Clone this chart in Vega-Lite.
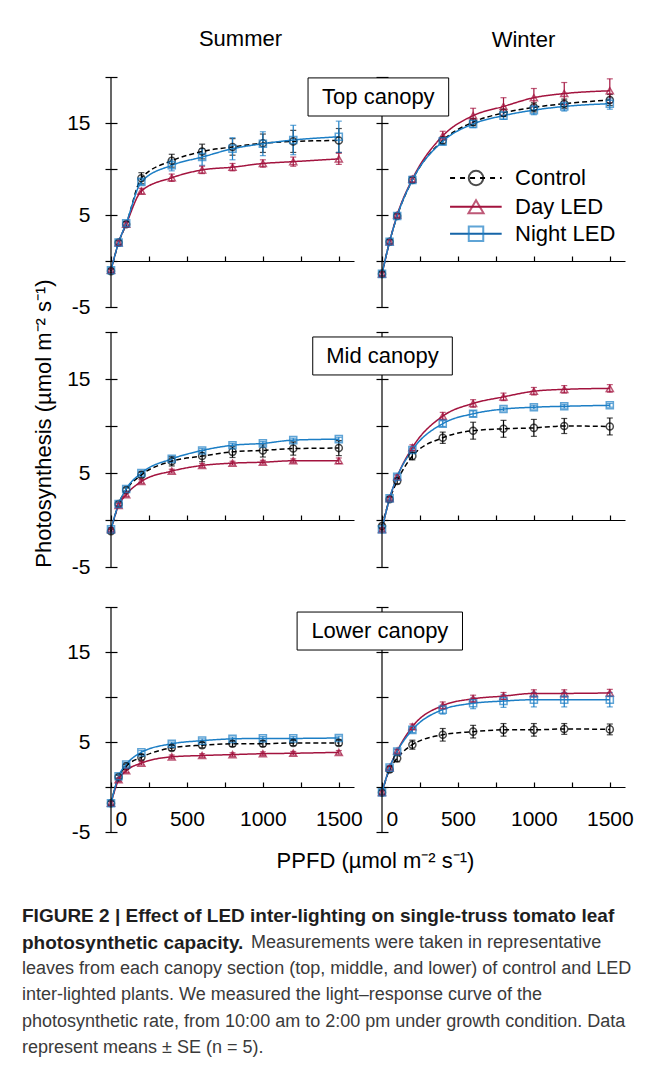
{
  "$schema": "https://vega.github.io/schema/vega-lite/v6.json",
  "background": "white",
  "padding": {"left": 22, "top": 28, "right": 5, "bottom": 5},
  "bounds": "flush",
  "columns": 2,
  "spacing": {"row": 25, "column": 28},
  "resolve": {"legend": {"shape": "independent", "color": "independent", "strokeDash": "independent"}},
  "data": {"values": [
    {"season":"Summer","canopy":"Top","treatment":"Control","ppfd":0,"rate":-1.1,"se":0.2},
    {"season":"Summer","canopy":"Top","treatment":"Control","ppfd":50,"rate":2.0,"se":0.2},
    {"season":"Summer","canopy":"Top","treatment":"Control","ppfd":100,"rate":4.0,"se":0.3},
    {"season":"Summer","canopy":"Top","treatment":"Control","ppfd":200,"rate":9.0,"se":0.6},
    {"season":"Summer","canopy":"Top","treatment":"Control","ppfd":400,"rate":10.9,"se":0.7},
    {"season":"Summer","canopy":"Top","treatment":"Control","ppfd":600,"rate":11.9,"se":0.8},
    {"season":"Summer","canopy":"Top","treatment":"Control","ppfd":800,"rate":12.4,"se":0.9},
    {"season":"Summer","canopy":"Top","treatment":"Control","ppfd":1000,"rate":12.8,"se":1.0},
    {"season":"Summer","canopy":"Top","treatment":"Control","ppfd":1200,"rate":13.0,"se":1.2},
    {"season":"Summer","canopy":"Top","treatment":"Control","ppfd":1500,"rate":13.1,"se":1.3},
    {"season":"Summer","canopy":"Top","treatment":"Day LED","ppfd":0,"rate":-1.0,"se":0.2},
    {"season":"Summer","canopy":"Top","treatment":"Day LED","ppfd":50,"rate":2.0,"se":0.2},
    {"season":"Summer","canopy":"Top","treatment":"Day LED","ppfd":100,"rate":4.0,"se":0.2},
    {"season":"Summer","canopy":"Top","treatment":"Day LED","ppfd":200,"rate":7.6,"se":0.3},
    {"season":"Summer","canopy":"Top","treatment":"Day LED","ppfd":400,"rate":9.05,"se":0.4},
    {"season":"Summer","canopy":"Top","treatment":"Day LED","ppfd":600,"rate":9.9,"se":0.4},
    {"season":"Summer","canopy":"Top","treatment":"Day LED","ppfd":800,"rate":10.2,"se":0.4},
    {"season":"Summer","canopy":"Top","treatment":"Day LED","ppfd":1000,"rate":10.6,"se":0.4},
    {"season":"Summer","canopy":"Top","treatment":"Day LED","ppfd":1200,"rate":10.8,"se":0.5},
    {"season":"Summer","canopy":"Top","treatment":"Day LED","ppfd":1500,"rate":11.1,"se":0.6},
    {"season":"Summer","canopy":"Top","treatment":"Night LED","ppfd":0,"rate":-1.0,"se":0.2},
    {"season":"Summer","canopy":"Top","treatment":"Night LED","ppfd":50,"rate":2.0,"se":0.2},
    {"season":"Summer","canopy":"Top","treatment":"Night LED","ppfd":100,"rate":4.1,"se":0.2},
    {"season":"Summer","canopy":"Top","treatment":"Night LED","ppfd":200,"rate":8.6,"se":0.3},
    {"season":"Summer","canopy":"Top","treatment":"Night LED","ppfd":400,"rate":10.4,"se":0.6},
    {"season":"Summer","canopy":"Top","treatment":"Night LED","ppfd":600,"rate":11.3,"se":0.9},
    {"season":"Summer","canopy":"Top","treatment":"Night LED","ppfd":800,"rate":12.2,"se":1.2},
    {"season":"Summer","canopy":"Top","treatment":"Night LED","ppfd":1000,"rate":12.75,"se":1.3},
    {"season":"Summer","canopy":"Top","treatment":"Night LED","ppfd":1200,"rate":13.15,"se":1.6},
    {"season":"Summer","canopy":"Top","treatment":"Night LED","ppfd":1500,"rate":13.5,"se":1.7},
    {"season":"Winter","canopy":"Top","treatment":"Control","ppfd":0,"rate":-1.4,"se":0.2},
    {"season":"Winter","canopy":"Top","treatment":"Control","ppfd":50,"rate":2.1,"se":0.2},
    {"season":"Winter","canopy":"Top","treatment":"Control","ppfd":100,"rate":4.9,"se":0.2},
    {"season":"Winter","canopy":"Top","treatment":"Control","ppfd":200,"rate":8.8,"se":0.3},
    {"season":"Winter","canopy":"Top","treatment":"Control","ppfd":400,"rate":13.1,"se":0.4},
    {"season":"Winter","canopy":"Top","treatment":"Control","ppfd":600,"rate":15.1,"se":0.4},
    {"season":"Winter","canopy":"Top","treatment":"Control","ppfd":800,"rate":16.1,"se":0.4},
    {"season":"Winter","canopy":"Top","treatment":"Control","ppfd":1000,"rate":16.7,"se":0.5},
    {"season":"Winter","canopy":"Top","treatment":"Control","ppfd":1200,"rate":17.1,"se":0.5},
    {"season":"Winter","canopy":"Top","treatment":"Control","ppfd":1500,"rate":17.5,"se":0.6},
    {"season":"Winter","canopy":"Top","treatment":"Day LED","ppfd":0,"rate":-1.4,"se":0.2},
    {"season":"Winter","canopy":"Top","treatment":"Day LED","ppfd":50,"rate":2.1,"se":0.2},
    {"season":"Winter","canopy":"Top","treatment":"Day LED","ppfd":100,"rate":5.0,"se":0.2},
    {"season":"Winter","canopy":"Top","treatment":"Day LED","ppfd":200,"rate":8.9,"se":0.3},
    {"season":"Winter","canopy":"Top","treatment":"Day LED","ppfd":400,"rate":13.6,"se":0.5},
    {"season":"Winter","canopy":"Top","treatment":"Day LED","ppfd":600,"rate":15.8,"se":0.8},
    {"season":"Winter","canopy":"Top","treatment":"Day LED","ppfd":800,"rate":16.8,"se":0.95},
    {"season":"Winter","canopy":"Top","treatment":"Day LED","ppfd":1000,"rate":17.75,"se":1.0},
    {"season":"Winter","canopy":"Top","treatment":"Day LED","ppfd":1200,"rate":18.2,"se":1.2},
    {"season":"Winter","canopy":"Top","treatment":"Day LED","ppfd":1500,"rate":18.5,"se":1.3},
    {"season":"Winter","canopy":"Top","treatment":"Night LED","ppfd":0,"rate":-1.4,"se":0.2},
    {"season":"Winter","canopy":"Top","treatment":"Night LED","ppfd":50,"rate":2.1,"se":0.2},
    {"season":"Winter","canopy":"Top","treatment":"Night LED","ppfd":100,"rate":4.9,"se":0.2},
    {"season":"Winter","canopy":"Top","treatment":"Night LED","ppfd":200,"rate":8.8,"se":0.3},
    {"season":"Winter","canopy":"Top","treatment":"Night LED","ppfd":400,"rate":13.0,"se":0.4},
    {"season":"Winter","canopy":"Top","treatment":"Night LED","ppfd":600,"rate":14.9,"se":0.4},
    {"season":"Winter","canopy":"Top","treatment":"Night LED","ppfd":800,"rate":15.8,"se":0.4},
    {"season":"Winter","canopy":"Top","treatment":"Night LED","ppfd":1000,"rate":16.4,"se":0.5},
    {"season":"Winter","canopy":"Top","treatment":"Night LED","ppfd":1200,"rate":16.8,"se":0.5},
    {"season":"Winter","canopy":"Top","treatment":"Night LED","ppfd":1500,"rate":17.1,"se":0.6},
    {"season":"Summer","canopy":"Mid","treatment":"Control","ppfd":0,"rate":-1.2,"se":0.2},
    {"season":"Summer","canopy":"Mid","treatment":"Control","ppfd":50,"rate":1.7,"se":0.2},
    {"season":"Summer","canopy":"Mid","treatment":"Control","ppfd":100,"rate":3.2,"se":0.2},
    {"season":"Summer","canopy":"Mid","treatment":"Control","ppfd":200,"rate":4.8,"se":0.3},
    {"season":"Summer","canopy":"Mid","treatment":"Control","ppfd":400,"rate":6.25,"se":0.5},
    {"season":"Summer","canopy":"Mid","treatment":"Control","ppfd":600,"rate":6.8,"se":0.6},
    {"season":"Summer","canopy":"Mid","treatment":"Control","ppfd":800,"rate":7.25,"se":0.6},
    {"season":"Summer","canopy":"Mid","treatment":"Control","ppfd":1000,"rate":7.4,"se":0.7},
    {"season":"Summer","canopy":"Mid","treatment":"Control","ppfd":1200,"rate":7.6,"se":0.7},
    {"season":"Summer","canopy":"Mid","treatment":"Control","ppfd":1500,"rate":7.65,"se":0.8},
    {"season":"Summer","canopy":"Mid","treatment":"Day LED","ppfd":0,"rate":-1.0,"se":0.2},
    {"season":"Summer","canopy":"Mid","treatment":"Day LED","ppfd":50,"rate":1.55,"se":0.2},
    {"season":"Summer","canopy":"Mid","treatment":"Day LED","ppfd":100,"rate":2.7,"se":0.2},
    {"season":"Summer","canopy":"Mid","treatment":"Day LED","ppfd":200,"rate":4.1,"se":0.2},
    {"season":"Summer","canopy":"Mid","treatment":"Day LED","ppfd":400,"rate":5.2,"se":0.2},
    {"season":"Summer","canopy":"Mid","treatment":"Day LED","ppfd":600,"rate":5.8,"se":0.2},
    {"season":"Summer","canopy":"Mid","treatment":"Day LED","ppfd":800,"rate":6.05,"se":0.2},
    {"season":"Summer","canopy":"Mid","treatment":"Day LED","ppfd":1000,"rate":6.15,"se":0.2},
    {"season":"Summer","canopy":"Mid","treatment":"Day LED","ppfd":1200,"rate":6.3,"se":0.2},
    {"season":"Summer","canopy":"Mid","treatment":"Day LED","ppfd":1500,"rate":6.3,"se":0.3},
    {"season":"Summer","canopy":"Mid","treatment":"Night LED","ppfd":0,"rate":-1.0,"se":0.2},
    {"season":"Summer","canopy":"Mid","treatment":"Night LED","ppfd":50,"rate":1.7,"se":0.2},
    {"season":"Summer","canopy":"Mid","treatment":"Night LED","ppfd":100,"rate":3.3,"se":0.2},
    {"season":"Summer","canopy":"Mid","treatment":"Night LED","ppfd":200,"rate":5.0,"se":0.2},
    {"season":"Summer","canopy":"Mid","treatment":"Night LED","ppfd":400,"rate":6.5,"se":0.2},
    {"season":"Summer","canopy":"Mid","treatment":"Night LED","ppfd":600,"rate":7.4,"se":0.2},
    {"season":"Summer","canopy":"Mid","treatment":"Night LED","ppfd":800,"rate":7.95,"se":0.2},
    {"season":"Summer","canopy":"Mid","treatment":"Night LED","ppfd":1000,"rate":8.15,"se":0.2},
    {"season":"Summer","canopy":"Mid","treatment":"Night LED","ppfd":1200,"rate":8.5,"se":0.2},
    {"season":"Summer","canopy":"Mid","treatment":"Night LED","ppfd":1500,"rate":8.6,"se":0.2},
    {"season":"Winter","canopy":"Mid","treatment":"Control","ppfd":0,"rate":-0.65,"se":0.2},
    {"season":"Winter","canopy":"Mid","treatment":"Control","ppfd":50,"rate":2.2,"se":0.2},
    {"season":"Winter","canopy":"Mid","treatment":"Control","ppfd":100,"rate":4.15,"se":0.3},
    {"season":"Winter","canopy":"Mid","treatment":"Control","ppfd":200,"rate":6.8,"se":0.4},
    {"season":"Winter","canopy":"Mid","treatment":"Control","ppfd":400,"rate":8.75,"se":0.6},
    {"season":"Winter","canopy":"Mid","treatment":"Control","ppfd":600,"rate":9.5,"se":0.9},
    {"season":"Winter","canopy":"Mid","treatment":"Control","ppfd":800,"rate":9.7,"se":0.9},
    {"season":"Winter","canopy":"Mid","treatment":"Control","ppfd":1000,"rate":9.8,"se":0.9},
    {"season":"Winter","canopy":"Mid","treatment":"Control","ppfd":1200,"rate":10.0,"se":0.8},
    {"season":"Winter","canopy":"Mid","treatment":"Control","ppfd":1500,"rate":9.95,"se":0.9},
    {"season":"Winter","canopy":"Mid","treatment":"Day LED","ppfd":0,"rate":-1.0,"se":0.2},
    {"season":"Winter","canopy":"Mid","treatment":"Day LED","ppfd":50,"rate":2.3,"se":0.2},
    {"season":"Winter","canopy":"Mid","treatment":"Day LED","ppfd":100,"rate":4.6,"se":0.2},
    {"season":"Winter","canopy":"Mid","treatment":"Day LED","ppfd":200,"rate":7.7,"se":0.3},
    {"season":"Winter","canopy":"Mid","treatment":"Day LED","ppfd":400,"rate":11.05,"se":0.4},
    {"season":"Winter","canopy":"Mid","treatment":"Day LED","ppfd":600,"rate":12.4,"se":0.4},
    {"season":"Winter","canopy":"Mid","treatment":"Day LED","ppfd":800,"rate":13.1,"se":0.4},
    {"season":"Winter","canopy":"Mid","treatment":"Day LED","ppfd":1000,"rate":13.7,"se":0.4},
    {"season":"Winter","canopy":"Mid","treatment":"Day LED","ppfd":1200,"rate":13.9,"se":0.4},
    {"season":"Winter","canopy":"Mid","treatment":"Day LED","ppfd":1500,"rate":14.0,"se":0.4},
    {"season":"Winter","canopy":"Mid","treatment":"Night LED","ppfd":0,"rate":-1.0,"se":0.2},
    {"season":"Winter","canopy":"Mid","treatment":"Night LED","ppfd":50,"rate":2.3,"se":0.2},
    {"season":"Winter","canopy":"Mid","treatment":"Night LED","ppfd":100,"rate":4.6,"se":0.2},
    {"season":"Winter","canopy":"Mid","treatment":"Night LED","ppfd":200,"rate":7.45,"se":0.2},
    {"season":"Winter","canopy":"Mid","treatment":"Night LED","ppfd":400,"rate":10.25,"se":0.3},
    {"season":"Winter","canopy":"Mid","treatment":"Night LED","ppfd":600,"rate":11.3,"se":0.3},
    {"season":"Winter","canopy":"Mid","treatment":"Night LED","ppfd":800,"rate":11.8,"se":0.2},
    {"season":"Winter","canopy":"Mid","treatment":"Night LED","ppfd":1000,"rate":12.0,"se":0.2},
    {"season":"Winter","canopy":"Mid","treatment":"Night LED","ppfd":1200,"rate":12.1,"se":0.2},
    {"season":"Winter","canopy":"Mid","treatment":"Night LED","ppfd":1500,"rate":12.2,"se":0.2},
    {"season":"Summer","canopy":"Lower","treatment":"Control","ppfd":0,"rate":-1.8,"se":0.2},
    {"season":"Summer","canopy":"Lower","treatment":"Control","ppfd":50,"rate":1.1,"se":0.2},
    {"season":"Summer","canopy":"Lower","treatment":"Control","ppfd":100,"rate":2.3,"se":0.2},
    {"season":"Summer","canopy":"Lower","treatment":"Control","ppfd":200,"rate":3.3,"se":0.3},
    {"season":"Summer","canopy":"Lower","treatment":"Control","ppfd":400,"rate":4.35,"se":0.3},
    {"season":"Summer","canopy":"Lower","treatment":"Control","ppfd":600,"rate":4.65,"se":0.3},
    {"season":"Summer","canopy":"Lower","treatment":"Control","ppfd":800,"rate":4.8,"se":0.3},
    {"season":"Summer","canopy":"Lower","treatment":"Control","ppfd":1000,"rate":4.8,"se":0.3},
    {"season":"Summer","canopy":"Lower","treatment":"Control","ppfd":1200,"rate":4.9,"se":0.3},
    {"season":"Summer","canopy":"Lower","treatment":"Control","ppfd":1500,"rate":4.9,"se":0.3},
    {"season":"Summer","canopy":"Lower","treatment":"Day LED","ppfd":0,"rate":-1.8,"se":0.2},
    {"season":"Summer","canopy":"Lower","treatment":"Day LED","ppfd":50,"rate":0.8,"se":0.2},
    {"season":"Summer","canopy":"Lower","treatment":"Day LED","ppfd":100,"rate":1.8,"se":0.2},
    {"season":"Summer","canopy":"Lower","treatment":"Day LED","ppfd":200,"rate":2.65,"se":0.2},
    {"season":"Summer","canopy":"Lower","treatment":"Day LED","ppfd":400,"rate":3.35,"se":0.2},
    {"season":"Summer","canopy":"Lower","treatment":"Day LED","ppfd":600,"rate":3.5,"se":0.2},
    {"season":"Summer","canopy":"Lower","treatment":"Day LED","ppfd":800,"rate":3.6,"se":0.2},
    {"season":"Summer","canopy":"Lower","treatment":"Day LED","ppfd":1000,"rate":3.7,"se":0.2},
    {"season":"Summer","canopy":"Lower","treatment":"Day LED","ppfd":1200,"rate":3.75,"se":0.2},
    {"season":"Summer","canopy":"Lower","treatment":"Day LED","ppfd":1500,"rate":3.85,"se":0.2},
    {"season":"Summer","canopy":"Lower","treatment":"Night LED","ppfd":0,"rate":-1.8,"se":0.2},
    {"season":"Summer","canopy":"Lower","treatment":"Night LED","ppfd":50,"rate":1.2,"se":0.2},
    {"season":"Summer","canopy":"Lower","treatment":"Night LED","ppfd":100,"rate":2.5,"se":0.2},
    {"season":"Summer","canopy":"Lower","treatment":"Night LED","ppfd":200,"rate":3.85,"se":0.2},
    {"season":"Summer","canopy":"Lower","treatment":"Night LED","ppfd":400,"rate":4.8,"se":0.2},
    {"season":"Summer","canopy":"Lower","treatment":"Night LED","ppfd":600,"rate":5.15,"se":0.2},
    {"season":"Summer","canopy":"Lower","treatment":"Night LED","ppfd":800,"rate":5.35,"se":0.2},
    {"season":"Summer","canopy":"Lower","treatment":"Night LED","ppfd":1000,"rate":5.4,"se":0.2},
    {"season":"Summer","canopy":"Lower","treatment":"Night LED","ppfd":1200,"rate":5.4,"se":0.2},
    {"season":"Summer","canopy":"Lower","treatment":"Night LED","ppfd":1500,"rate":5.45,"se":0.2},
    {"season":"Winter","canopy":"Lower","treatment":"Control","ppfd":0,"rate":-0.6,"se":0.2},
    {"season":"Winter","canopy":"Lower","treatment":"Control","ppfd":50,"rate":1.95,"se":0.3},
    {"season":"Winter","canopy":"Lower","treatment":"Control","ppfd":100,"rate":3.2,"se":0.4},
    {"season":"Winter","canopy":"Lower","treatment":"Control","ppfd":200,"rate":4.7,"se":0.5},
    {"season":"Winter","canopy":"Lower","treatment":"Control","ppfd":400,"rate":5.8,"se":0.7},
    {"season":"Winter","canopy":"Lower","treatment":"Control","ppfd":600,"rate":6.15,"se":0.7},
    {"season":"Winter","canopy":"Lower","treatment":"Control","ppfd":800,"rate":6.35,"se":0.7},
    {"season":"Winter","canopy":"Lower","treatment":"Control","ppfd":1000,"rate":6.35,"se":0.7},
    {"season":"Winter","canopy":"Lower","treatment":"Control","ppfd":1200,"rate":6.45,"se":0.6},
    {"season":"Winter","canopy":"Lower","treatment":"Control","ppfd":1500,"rate":6.4,"se":0.6},
    {"season":"Winter","canopy":"Lower","treatment":"Day LED","ppfd":0,"rate":-0.6,"se":0.2},
    {"season":"Winter","canopy":"Lower","treatment":"Day LED","ppfd":50,"rate":2.15,"se":0.2},
    {"season":"Winter","canopy":"Lower","treatment":"Day LED","ppfd":100,"rate":4.0,"se":0.2},
    {"season":"Winter","canopy":"Lower","treatment":"Day LED","ppfd":200,"rate":6.7,"se":0.3},
    {"season":"Winter","canopy":"Lower","treatment":"Day LED","ppfd":400,"rate":9.05,"se":0.4},
    {"season":"Winter","canopy":"Lower","treatment":"Day LED","ppfd":600,"rate":9.8,"se":0.4},
    {"season":"Winter","canopy":"Lower","treatment":"Day LED","ppfd":800,"rate":10.1,"se":0.4},
    {"season":"Winter","canopy":"Lower","treatment":"Day LED","ppfd":1000,"rate":10.4,"se":0.4},
    {"season":"Winter","canopy":"Lower","treatment":"Day LED","ppfd":1200,"rate":10.4,"se":0.4},
    {"season":"Winter","canopy":"Lower","treatment":"Day LED","ppfd":1500,"rate":10.45,"se":0.4},
    {"season":"Winter","canopy":"Lower","treatment":"Night LED","ppfd":0,"rate":-0.6,"se":0.2},
    {"season":"Winter","canopy":"Lower","treatment":"Night LED","ppfd":50,"rate":2.15,"se":0.2},
    {"season":"Winter","canopy":"Lower","treatment":"Night LED","ppfd":100,"rate":3.95,"se":0.2},
    {"season":"Winter","canopy":"Lower","treatment":"Night LED","ppfd":200,"rate":6.35,"se":0.3},
    {"season":"Winter","canopy":"Lower","treatment":"Night LED","ppfd":400,"rate":8.6,"se":0.5},
    {"season":"Winter","canopy":"Lower","treatment":"Night LED","ppfd":600,"rate":9.3,"se":0.6},
    {"season":"Winter","canopy":"Lower","treatment":"Night LED","ppfd":800,"rate":9.55,"se":0.7},
    {"season":"Winter","canopy":"Lower","treatment":"Night LED","ppfd":1000,"rate":9.7,"se":0.8},
    {"season":"Winter","canopy":"Lower","treatment":"Night LED","ppfd":1200,"rate":9.7,"se":0.8},
    {"season":"Winter","canopy":"Lower","treatment":"Night LED","ppfd":1500,"rate":9.7,"se":0.8}
  ]},
  "concat": [
    {
      "width": 243, "height": 230,
      "title": {"text": "Summer", "dx": 8, "offset": 15},
      "encoding": {
        "color": {"field": "treatment", "type": "nominal", "scale": {"domain": ["Night LED","Control","Day LED"], "range": ["#1c7ec5","#000000","#a3133e"]}, "legend": null}
      },
      "layer": [
        {"transform": [{"filter": "datum.season === 'Summer' && datum.canopy === 'Top'"}], "mark": {"type": "errorbar", "ticks": {"size": 6}, "thickness": 1.2}, "encoding": {
          "x": {"field": "ppfd", "type": "quantitative", "scale": {"domain": [0, 1600], "nice": false, "zero": false}, "axis": {"values": [0,250,500,750,1000,1250,1500], "labels": false, "title": null, "offset": -46, "tickSize": -5}},
          "y": {"field": "rate", "type": "quantitative", "scale": {"domain": [-5, 20], "nice": false, "zero": false}, "axis": {"values": [-5,0,5,10,15,20], "labelExpr": "datum.value === 15 ? '15' : datum.value === 5 ? '5' : datum.value === -5 ? '-5' : ''", "labelOverlap": false, "domain": false, "offset": -6, "tickSize": 12, "labelPadding": 15, "title": null}},
          "yError": {"field": "se"}}},
        {"transform": [{"filter": "datum.season === 'Summer' && datum.canopy === 'Top'"}], "mark": {"type": "line", "interpolate": "monotone", "strokeWidth": 1.5}, "encoding": {"x": {"field": "ppfd", "type": "quantitative"}, "y": {"field": "rate", "type": "quantitative"}, "strokeDash": {"field": "treatment", "type": "nominal", "scale": {"domain": ["Day LED","Night LED","Control"], "range": [[1,0],[1,0],[5,3]]}, "legend": null}}},
        {"transform": [{"filter": "datum.season === 'Summer' && datum.canopy === 'Top'"}], "mark": {"type": "point", "filled": false, "size": 50, "strokeWidth": 1.5}, "encoding": {"x": {"field": "ppfd", "type": "quantitative"}, "y": {"field": "rate", "type": "quantitative"}, "shape": {"field": "treatment", "type": "nominal", "scale": {"domain": ["Control","Day LED","Night LED"], "range": ["circle","triangle-up","square"]}, "legend": null}}},
        {"data": {"values": [{}]}, "mark": {"type": "rule", "strokeWidth": 1.2}, "encoding": {"x": {"datum": 0}, "y": {"datum": -5}, "y2": {"datum": 20}, "color": {"value": "black"}}}
      ]
    },
    {
      "width": 243, "height": 230,
      "title": {"text": "Winter", "dx": 20, "offset": 24},
      "encoding": {
        "color": {"field": "treatment", "type": "nominal", "scale": {"domain": ["Night LED","Control","Day LED"], "range": ["#1c7ec5","#000000","#a3133e"]}, "legend": null}
      },
      "layer": [
        {"transform": [{"filter": "datum.season === 'Winter' && datum.canopy === 'Top'"}], "mark": {"type": "errorbar", "ticks": {"size": 6}, "thickness": 1.2}, "encoding": {
          "x": {"field": "ppfd", "type": "quantitative", "scale": {"domain": [0, 1600], "nice": false, "zero": false}, "axis": {"values": [0,250,500,750,1000,1250,1500], "labels": false, "title": null, "offset": -46, "tickSize": -5}},
          "y": {"field": "rate", "type": "quantitative", "scale": {"domain": [-5, 20], "nice": false, "zero": false}, "axis": {"values": [-5,0,5,10,15,20], "labels": false, "domain": false, "offset": -6, "tickSize": 12, "title": null}},
          "yError": {"field": "se"}}},
        {"transform": [{"filter": "datum.season === 'Winter' && datum.canopy === 'Top'"}], "mark": {"type": "line", "interpolate": "monotone", "strokeWidth": 1.5}, "encoding": {"x": {"field": "ppfd", "type": "quantitative"}, "y": {"field": "rate", "type": "quantitative"}, "strokeDash": {"field": "treatment", "type": "nominal", "scale": {"domain": ["Day LED","Night LED","Control"], "range": [[1,0],[1,0],[5,3]]}, "legend": null}}},
        {"transform": [{"filter": "datum.season === 'Winter' && datum.canopy === 'Top'"}], "mark": {"type": "point", "filled": false, "size": 50, "strokeWidth": 1.5}, "encoding": {"x": {"field": "ppfd", "type": "quantitative"}, "y": {"field": "rate", "type": "quantitative"}, "shape": {"field": "treatment", "type": "nominal", "scale": {"domain": ["Control","Day LED","Night LED"], "range": ["circle","triangle-up","square"]}, "legend": null}}},
        {"data": {"values": [{}]}, "mark": {"type": "rule", "strokeWidth": 1.2}, "encoding": {"x": {"datum": 0}, "y": {"datum": -5}, "y2": {"datum": 20}, "color": {"value": "black"}}},
        {"data": {"values": [{"label": "Control"}]}, "mark": {"type": "rule", "strokeWidth": 2, "strokeDash": [5, 5]}, "encoding": {"x": {"datum": 448}, "x2": {"datum": 788}, "y": {"datum": 9.02}, "color": {"value": "#000000"}}},
        {"data": {"values": [{"label": "Control"}]}, "mark": {"type": "point", "filled": false, "size": 210, "strokeWidth": 2, "shape": "circle"}, "encoding": {"x": {"datum": 619}, "y": {"datum": 9.02}, "color": {"value": "#000000"}}},
        {"data": {"values": [{"label": "Control"}]}, "mark": {"type": "text", "align": "left", "fontSize": 22, "font": "Liberation Sans"}, "encoding": {"x": {"datum": 876}, "y": {"datum": 9.02}, "text": {"field": "label"}, "color": {"value": "black"}}},
        {"data": {"values": [{"label": "Day LED"}]}, "mark": {"type": "rule", "strokeWidth": 2}, "encoding": {"x": {"datum": 448}, "x2": {"datum": 788}, "y": {"datum": 5.9}, "color": {"value": "#a3133e"}}},
        {"data": {"values": [{"label": "Day LED"}]}, "mark": {"type": "point", "filled": false, "size": 230, "strokeWidth": 2, "shape": "triangle-up"}, "encoding": {"x": {"datum": 619}, "y": {"datum": 5.9}, "color": {"value": "#a3133e"}}},
        {"data": {"values": [{"label": "Day LED"}]}, "mark": {"type": "text", "align": "left", "fontSize": 22, "font": "Liberation Sans"}, "encoding": {"x": {"datum": 876}, "y": {"datum": 5.9}, "text": {"field": "label"}, "color": {"value": "black"}}},
        {"data": {"values": [{"label": "Night LED"}]}, "mark": {"type": "rule", "strokeWidth": 2}, "encoding": {"x": {"datum": 448}, "x2": {"datum": 788}, "y": {"datum": 2.97}, "color": {"value": "#1565a8"}}},
        {"data": {"values": [{"label": "Night LED"}]}, "mark": {"type": "point", "filled": false, "size": 210, "strokeWidth": 2, "shape": "square"}, "encoding": {"x": {"datum": 619}, "y": {"datum": 2.97}, "color": {"value": "#1c7ec5"}}},
        {"data": {"values": [{"label": "Night LED"}]}, "mark": {"type": "text", "align": "left", "fontSize": 22, "font": "Liberation Sans"}, "encoding": {"x": {"datum": 876}, "y": {"datum": 2.97}, "text": {"field": "label"}, "color": {"value": "black"}}},
        {"data": {"values": [{"label": "Top canopy"}]}, "mark": {"type": "rect", "stroke": "black", "strokeWidth": 1}, "encoding": {"x": {"datum": -487}, "x2": {"datum": 439}, "y": {"datum": 19.9}, "y2": {"datum": 15.76}, "color": {"value": "white"}}},
        {"data": {"values": [{"label": "Top canopy"}]}, "mark": {"type": "text", "fontSize": 22, "font": "Liberation Sans"}, "encoding": {"x": {"datum": -24}, "y": {"datum": 17.85}, "text": {"field": "label"}, "color": {"value": "black"}}}
      ]
    },
    {
      "width": 243, "height": 235,
      "encoding": {
        "color": {"field": "treatment", "type": "nominal", "scale": {"domain": ["Night LED","Control","Day LED"], "range": ["#1c7ec5","#000000","#a3133e"]}, "legend": null}
      },
      "layer": [
        {"transform": [{"filter": "datum.season === 'Summer' && datum.canopy === 'Mid'"}], "mark": {"type": "errorbar", "ticks": {"size": 6}, "thickness": 1.2}, "encoding": {
          "x": {"field": "ppfd", "type": "quantitative", "scale": {"domain": [0, 1600], "nice": false, "zero": false}, "axis": {"values": [0,250,500,750,1000,1250,1500], "labels": false, "title": null, "offset": -47, "tickSize": -5}},
          "y": {"field": "rate", "type": "quantitative", "scale": {"domain": [-5, 20], "nice": false, "zero": false}, "axis": {"values": [-5,0,5,10,15,20], "labelExpr": "datum.value === 15 ? '15' : datum.value === 5 ? '5' : datum.value === -5 ? '-5' : ''", "labelOverlap": false, "domain": false, "offset": -6, "tickSize": 12, "labelPadding": 15, "title": "Photosynthesis (µmol m⁻² s⁻¹)", "titleFontSize": 22, "titleX": -67, "titleY": 91, "titleAngle": -90, "titleAlign": "center", "titleBaseline": "alphabetic"}},
          "yError": {"field": "se"}}},
        {"transform": [{"filter": "datum.season === 'Summer' && datum.canopy === 'Mid'"}], "mark": {"type": "line", "interpolate": "monotone", "strokeWidth": 1.5}, "encoding": {"x": {"field": "ppfd", "type": "quantitative"}, "y": {"field": "rate", "type": "quantitative"}, "strokeDash": {"field": "treatment", "type": "nominal", "scale": {"domain": ["Day LED","Night LED","Control"], "range": [[1,0],[1,0],[5,3]]}, "legend": null}}},
        {"transform": [{"filter": "datum.season === 'Summer' && datum.canopy === 'Mid'"}], "mark": {"type": "point", "filled": false, "size": 50, "strokeWidth": 1.5}, "encoding": {"x": {"field": "ppfd", "type": "quantitative"}, "y": {"field": "rate", "type": "quantitative"}, "shape": {"field": "treatment", "type": "nominal", "scale": {"domain": ["Control","Day LED","Night LED"], "range": ["circle","triangle-up","square"]}, "legend": null}}},
        {"data": {"values": [{}]}, "mark": {"type": "rule", "strokeWidth": 1.2}, "encoding": {"x": {"datum": 0}, "y": {"datum": -5}, "y2": {"datum": 20}, "color": {"value": "black"}}}
      ]
    },
    {
      "width": 243, "height": 235,
      "encoding": {
        "color": {"field": "treatment", "type": "nominal", "scale": {"domain": ["Night LED","Control","Day LED"], "range": ["#1c7ec5","#000000","#a3133e"]}, "legend": null}
      },
      "layer": [
        {"transform": [{"filter": "datum.season === 'Winter' && datum.canopy === 'Mid'"}], "mark": {"type": "errorbar", "ticks": {"size": 6}, "thickness": 1.2}, "encoding": {
          "x": {"field": "ppfd", "type": "quantitative", "scale": {"domain": [0, 1600], "nice": false, "zero": false}, "axis": {"values": [0,250,500,750,1000,1250,1500], "labels": false, "title": null, "offset": -47, "tickSize": -5}},
          "y": {"field": "rate", "type": "quantitative", "scale": {"domain": [-5, 20], "nice": false, "zero": false}, "axis": {"values": [-5,0,5,10,15,20], "labels": false, "domain": false, "offset": -6, "tickSize": 12, "title": null}},
          "yError": {"field": "se"}}},
        {"transform": [{"filter": "datum.season === 'Winter' && datum.canopy === 'Mid'"}], "mark": {"type": "line", "interpolate": "monotone", "strokeWidth": 1.5}, "encoding": {"x": {"field": "ppfd", "type": "quantitative"}, "y": {"field": "rate", "type": "quantitative"}, "strokeDash": {"field": "treatment", "type": "nominal", "scale": {"domain": ["Day LED","Night LED","Control"], "range": [[1,0],[1,0],[5,3]]}, "legend": null}}},
        {"transform": [{"filter": "datum.season === 'Winter' && datum.canopy === 'Mid'"}], "mark": {"type": "point", "filled": false, "size": 50, "strokeWidth": 1.5}, "encoding": {"x": {"field": "ppfd", "type": "quantitative"}, "y": {"field": "rate", "type": "quantitative"}, "shape": {"field": "treatment", "type": "nominal", "scale": {"domain": ["Control","Day LED","Night LED"], "range": ["circle","triangle-up","square"]}, "legend": null}}},
        {"data": {"values": [{}]}, "mark": {"type": "rule", "strokeWidth": 1.2}, "encoding": {"x": {"datum": 0}, "y": {"datum": -5}, "y2": {"datum": 20}, "color": {"value": "black"}}},
        {"data": {"values": [{"label": "Mid canopy"}]}, "mark": {"type": "rect", "stroke": "black", "strokeWidth": 1}, "encoding": {"x": {"datum": -456}, "x2": {"datum": 463}, "y": {"datum": 19.47}, "y2": {"datum": 15.43}, "color": {"value": "white"}}},
        {"data": {"values": [{"label": "Mid canopy"}]}, "mark": {"type": "text", "fontSize": 22, "font": "Liberation Sans"}, "encoding": {"x": {"datum": 3}, "y": {"datum": 17.45}, "text": {"field": "label"}, "color": {"value": "black"}}}
      ]
    },
    {
      "width": 243, "height": 240,
      "encoding": {
        "color": {"field": "treatment", "type": "nominal", "scale": {"domain": ["Night LED","Control","Day LED"], "range": ["#1c7ec5","#000000","#a3133e"]}, "legend": null}
      },
      "layer": [
        {"transform": [{"filter": "datum.season === 'Summer' && datum.canopy === 'Lower'"}], "mark": {"type": "errorbar", "ticks": {"size": 6}, "thickness": 1.2}, "encoding": {
          "x": {"field": "ppfd", "type": "quantitative", "scale": {"domain": [0, 1600], "nice": false, "zero": false}, "axis": {"values": [0,250,500,750,1000,1250,1500], "format": "d", "labelExpr": "datum.value % 500 === 0 ? datum.label : ''", "labelOverlap": false, "labelFlush": true, "labelFlushOffset": -4, "labelPadding": 26, "offset": -45, "tickSize": -5, "title": "PPFD (µmol m⁻² s⁻¹)", "titleFontSize": 22, "titleX": 264, "titleY": 80, "titleAlign": "center", "titleBaseline": "alphabetic"}},
          "y": {"field": "rate", "type": "quantitative", "scale": {"domain": [-5, 21.667], "nice": false, "zero": false}, "axis": {"values": [-5,0,5,10,15,20], "labelExpr": "datum.value === 15 ? '15' : datum.value === 5 ? '5' : datum.value === -5 ? '-5' : ''", "labelOverlap": false, "domain": false, "offset": -6, "tickSize": 12, "labelPadding": 15, "title": null}},
          "yError": {"field": "se"}}},
        {"transform": [{"filter": "datum.season === 'Summer' && datum.canopy === 'Lower'"}], "mark": {"type": "line", "interpolate": "monotone", "strokeWidth": 1.5}, "encoding": {"x": {"field": "ppfd", "type": "quantitative"}, "y": {"field": "rate", "type": "quantitative"}, "strokeDash": {"field": "treatment", "type": "nominal", "scale": {"domain": ["Day LED","Night LED","Control"], "range": [[1,0],[1,0],[5,3]]}, "legend": null}}},
        {"transform": [{"filter": "datum.season === 'Summer' && datum.canopy === 'Lower'"}], "mark": {"type": "point", "filled": false, "size": 50, "strokeWidth": 1.5}, "encoding": {"x": {"field": "ppfd", "type": "quantitative"}, "y": {"field": "rate", "type": "quantitative"}, "shape": {"field": "treatment", "type": "nominal", "scale": {"domain": ["Control","Day LED","Night LED"], "range": ["circle","triangle-up","square"]}, "legend": null}}},
        {"data": {"values": [{}]}, "mark": {"type": "rule", "strokeWidth": 1.2}, "encoding": {"x": {"datum": 0}, "y": {"datum": -5}, "y2": {"datum": 20}, "color": {"value": "black"}}}
      ]
    },
    {
      "width": 243, "height": 240,
      "encoding": {
        "color": {"field": "treatment", "type": "nominal", "scale": {"domain": ["Night LED","Control","Day LED"], "range": ["#1c7ec5","#000000","#a3133e"]}, "legend": null}
      },
      "layer": [
        {"transform": [{"filter": "datum.season === 'Winter' && datum.canopy === 'Lower'"}], "mark": {"type": "errorbar", "ticks": {"size": 6}, "thickness": 1.2}, "encoding": {
          "x": {"field": "ppfd", "type": "quantitative", "scale": {"domain": [0, 1600], "nice": false, "zero": false}, "axis": {"values": [0,250,500,750,1000,1250,1500], "format": "d", "labelExpr": "datum.value % 500 === 0 ? datum.label : ''", "labelOverlap": false, "labelFlush": true, "labelFlushOffset": -4, "labelPadding": 26, "offset": -45, "tickSize": -5, "title": null}},
          "y": {"field": "rate", "type": "quantitative", "scale": {"domain": [-5, 21.667], "nice": false, "zero": false}, "axis": {"values": [-5,0,5,10,15,20], "labels": false, "domain": false, "offset": -6, "tickSize": 12, "title": null}},
          "yError": {"field": "se"}}},
        {"transform": [{"filter": "datum.season === 'Winter' && datum.canopy === 'Lower'"}], "mark": {"type": "line", "interpolate": "monotone", "strokeWidth": 1.5}, "encoding": {"x": {"field": "ppfd", "type": "quantitative"}, "y": {"field": "rate", "type": "quantitative"}, "strokeDash": {"field": "treatment", "type": "nominal", "scale": {"domain": ["Day LED","Night LED","Control"], "range": [[1,0],[1,0],[5,3]]}, "legend": null}}},
        {"transform": [{"filter": "datum.season === 'Winter' && datum.canopy === 'Lower'"}], "mark": {"type": "point", "filled": false, "size": 50, "strokeWidth": 1.5}, "encoding": {"x": {"field": "ppfd", "type": "quantitative"}, "y": {"field": "rate", "type": "quantitative"}, "shape": {"field": "treatment", "type": "nominal", "scale": {"domain": ["Control","Day LED","Night LED"], "range": ["circle","triangle-up","square"]}, "legend": null}}},
        {"data": {"values": [{}]}, "mark": {"type": "rule", "strokeWidth": 1.2}, "encoding": {"x": {"datum": 0}, "y": {"datum": -5}, "y2": {"datum": 20}, "color": {"value": "black"}}},
        {"data": {"values": [{"label": "Lower canopy"}]}, "mark": {"type": "rect", "stroke": "black", "strokeWidth": 1}, "encoding": {"x": {"datum": -559}, "x2": {"datum": 530}, "y": {"datum": 19.44}, "y2": {"datum": 15.22}, "color": {"value": "white"}}},
        {"data": {"values": [{"label": "Lower canopy"}]}, "mark": {"type": "text", "fontSize": 22, "font": "Liberation Sans"}, "encoding": {"x": {"datum": -14}, "y": {"datum": 17.33}, "text": {"field": "label"}, "color": {"value": "black"}}}
      ]
    },
    {
      "width": 243, "height": 158,
      "data": {"values": [
        {"line": 1, "part": "bold", "text": "FIGURE 2 | Effect of LED inter-lighting on single-truss tomato leaf"},
        {"line": 2, "part": "bold", "text": "photosynthetic capacity."},
        {"line": 2, "part": "lead", "text": "Measurements were taken in representative"},
        {"line": 3, "part": "body", "text": "leaves from each canopy section (top, middle, and lower) of control and LED"},
        {"line": 4, "part": "body", "text": "inter-lighted plants. We measured the light–response curve of the"},
        {"line": 5, "part": "body", "text": "photosynthetic rate, from 10:00 am to 2:00 pm under growth condition. Data"},
        {"line": 6, "part": "body", "text": "represent means ± SE (n = 5)."}
      ]},
      "encoding": {
        "y": {"field": "line", "type": "ordinal", "axis": null, "scale": {"type": "point", "padding": 0.5}},
        "x": {"datum": 0, "type": "quantitative", "scale": {"domain": [0, 1]}, "axis": null},
        "text": {"field": "text"}
      },
      "layer": [
        {"transform": [{"filter": "datum.part === 'bold'"}], "mark": {"type": "text", "align": "left", "dx": -89, "dy": 46, "fontSize": 19, "fontWeight": "bold", "font": "Liberation Sans", "color": "#1e1e1e"}},
        {"transform": [{"filter": "datum.part === 'lead'"}], "mark": {"type": "text", "align": "left", "dx": 140, "dy": 46, "fontSize": 18, "font": "Liberation Sans", "color": "#3a3a3a"}},
        {"transform": [{"filter": "datum.part === 'body'"}], "mark": {"type": "text", "align": "left", "dx": -89, "dy": 46, "fontSize": 18, "font": "Liberation Sans", "color": "#3a3a3a"}}
      ]
    }
  ],
  "config": {
    "view": {"stroke": null},
    "font": "Liberation Sans",
    "title": {"font": "Liberation Sans", "fontSize": 22, "fontWeight": "normal", "color": "black"},
    "axis": {"grid": false, "domainColor": "black", "tickColor": "black", "domainWidth": 1.2, "tickWidth": 1.2, "labelColor": "black", "labelFont": "Liberation Sans", "labelFontSize": 21, "titleFont": "Liberation Sans", "titleFontSize": 22, "titleFontWeight": "normal", "titleColor": "black"}
  }
}
